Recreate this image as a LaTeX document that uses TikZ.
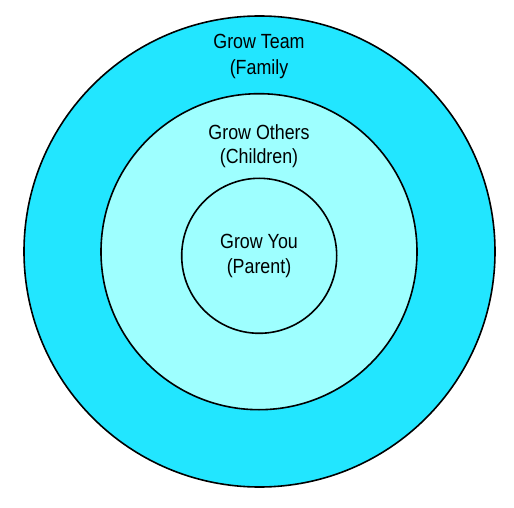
\documentclass[tikz,border=0pt]{standalone}
\usepackage{fontspec}
\setmainfont[FakeStretch=0.87]{Liberation Sans}
\definecolor{outercyan}{RGB}{34,230,255}
\definecolor{innercyan}{RGB}{158,255,255}
\begin{document}
\begin{tikzpicture}[x=1pt,y=1pt,
  ring/.style={circle,draw=black,line width=1.6pt,inner sep=0pt},
  lbl/.style={anchor=base,inner sep=0pt,font=\fontsize{20.5}{24}\selectfont}]
\useasboundingbox (0,0) rectangle (514,507);
\node[ring,fill=outercyan,minimum size=471pt] (outer) at (259.5,255.5) {};
\node[ring,fill=innercyan,minimum size=316pt] (middle) at (259,255.3) {};
\node[ring,fill=innercyan,minimum size=155pt] (inner) at (259.2,251.2) {};
\node[lbl] (team1) at (259,458.5) {Grow Team};
\node[lbl] (team2) at (259,432.5) {(Family};
\node[lbl] (others1) at (259,367.5) {Grow Others};
\node[lbl] (others2) at (259,343.5) {(Children)};
\node[lbl] (you1) at (259,259) {Grow You};
\node[lbl] (you2) at (259,233.5) {(Parent)};
\end{tikzpicture}
\end{document}
